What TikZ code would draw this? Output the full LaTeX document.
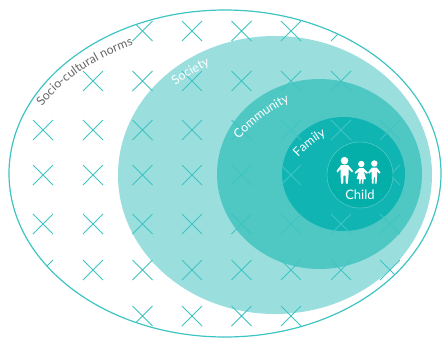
\documentclass[tikz,border=0pt]{standalone}
\usepackage{fontspec}
\setmainfont{Lato}
\usetikzlibrary{decorations.text}
\definecolor{ringline}{RGB}{62,196,194}
\definecolor{societyfill}{RGB}{154,223,222}
\definecolor{communityfill}{RGB}{79,200,196}
\definecolor{familyfill}{RGB}{16,181,179}
\definecolor{childfill}{RGB}{4,174,169}
\definecolor{normstext}{RGB}{102,102,102}
\tikzset{
  crossline/.style={draw=ringline,line width=1pt},
  figure/.style={fill=white,draw=none},
}
\newcommand{\ringtext}[4]{\path[decorate,decoration={text along path,text align=center,
  text color=#1,text={|\fontsize{#2}{#2}\selectfont|#3}}] #4;}
\begin{document}
\begin{tikzpicture}[x=1pt,y=-1pt]
	\useasboundingbox (0,0) rectangle (443,338);
	\coordinate (outerc) at (225,173.5);
	% discs
	\fill [societyfill] (275,175) ellipse (157 and 139);
	\fill [communityfill] (319.5,174) ellipse (102.5 and 95);
	\fill [familyfill] (343.5,174) ellipse (61.5 and 57);
	% crosses
	\begin{scope}
		\clip (outerc) ellipse (216 and 163.5);
		\foreach \y/\xlist in {31/{142.5,192,241.5,291,341},
			81/{93,142.5,192,241.5,291,341},
			130/{43,93,142.5,192,241.5,291,341,390},
			175/{43,93,142.5,192,241.5,291,341,390},
			224/{43,93,142.5,192,241.5,291,341,390},
			270/{43,93,142.5,192,241.5,291,341,390},
			316/{142.5,192,241.5,291}}
			\foreach \x in \xlist
				\draw [crossline] (\x-10,\y-10) -- (\x+10,\y+10) (\x+10,\y-10) -- (\x-10,\y+10);
	\end{scope}
	\draw [ringline,line width=1.2pt] (outerc) ellipse (216 and 163.5);
	% child disc
	\draw [fill=childfill,draw=white,draw opacity=0.4,line width=0.4pt] (360,175) circle (33);
	% adult
	\fill [figure] (344.5,160.7) circle (3.8);
	\fill [figure] (341,165) -- (348,165) -- (353,171) -- (352,172.5) -- (348.5,169) -- (348.5,175) -- (347.8,183.5) -- (345.8,183.5) -- (345.5,175.5) -- (343.5,175.5) -- (343.2,183.5) -- (341.2,183.5) -- (340.5,175) -- (340.5,169) -- (337.5,172.5) -- (336.5,171) -- cycle;
	% girl
	\fill [figure] (361.3,164) circle (3.2);
	\fill [figure] (359.3,168) -- (363.3,168) -- (368,172.5) -- (367,173.8) -- (363.8,171.5) -- (366,179) -- (363.6,179) -- (363.4,183.5) -- (362,183.5) -- (361.8,179) -- (360.8,179) -- (360.6,183.5) -- (359.2,183.5) -- (359,179) -- (356.6,179) -- (358.8,171.5) -- (355.6,173.8) -- (354.6,172.5) -- cycle;
	% boy
	\fill [figure] (374.3,163.5) circle (3.2);
	\fill [figure] (371.8,167.6) -- (376.8,167.6) -- (380.5,172.5) -- (379.3,173.6) -- (377,171.2) -- (377,176.5) -- (376.6,183.5) -- (375,183.5) -- (374.8,177) -- (373.8,177) -- (373.6,183.5) -- (372,183.5) -- (371.6,176.5) -- (371.6,171.2) -- (369.3,173.6) -- (368.1,172.5) -- cycle;
	% labels
	\node (childlabel) [text=white,font=\fontsize{13}{13}\selectfont,inner sep=0pt] at (360,195) {Child};
	\ringtext{normstext}{12.3}{Socio-cultural norms}{(38,112) .. controls (60,81) and (97,56) .. (140,43)}
	\ringtext{white}{12.5}{Society}{(171,89) .. controls (185,78) and (198,70) .. (215,63)}
	\ringtext{white}{12.5}{Community}{(236,142) .. controls (252,125) and (270,110) .. (293,100)}
	\ringtext{white}{12.5}{Family}{(295,161) .. controls (305,150) and (315,141) .. (330,133)}
\end{tikzpicture}
\end{document}
